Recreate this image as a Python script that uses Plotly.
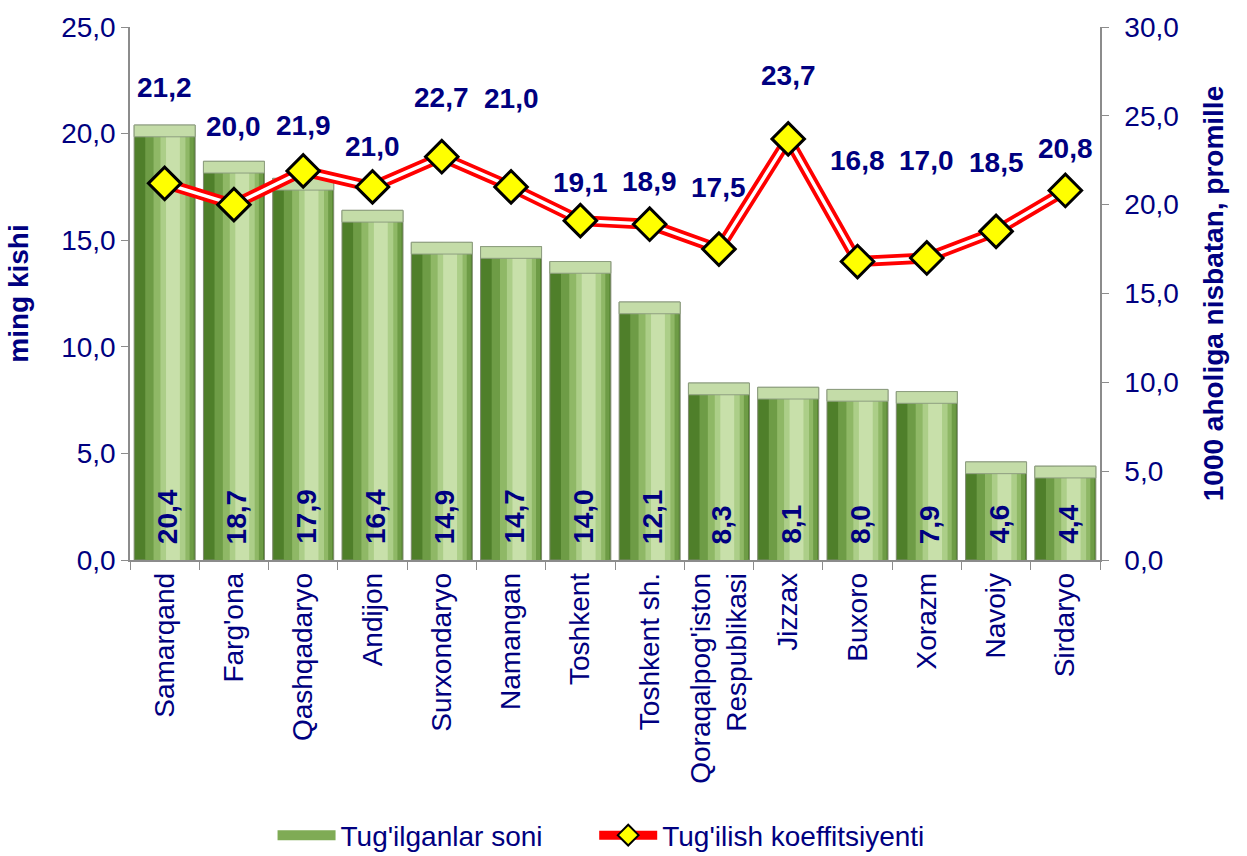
import plotly.graph_objects as go

categories = ["Samarqand", "Farg'ona", "Qashqadaryo", "Andijon", "Surxondaryo", "Namangan",
              "Toshkent", "Toshkent sh.", "Qoraqalpog'iston<br>Respublikasi", "Jizzax", "Buxoro",
              "Xorazm", "Navoiy", "Sirdaryo"]
births = [20.4, 18.7, 17.9, 16.4, 14.9, 14.7, 14.0, 12.1, 8.3, 8.1, 8.0, 7.9, 4.6, 4.4]
rate = [21.2, 20.0, 21.9, 21.0, 22.7, 21.0, 19.1, 18.9, 17.5, 23.7, 16.8, 17.0, 18.5, 20.8]

# label offsets above markers (pixels) - layout only
label_shift = [96, 78, 45, 40, 59, 88, 38, 43, 62, 63, 101, 97, 69, 42]

NAVY = "#000080"
FONT = "Arial, Liberation Sans, sans-serif"
FS = 28

def fmt(v):
    return f"{v:.1f}".replace(".", ",")

fig = go.Figure()

# bar layers (simulated gradient)
layers = [
    (0.88, -0.44, "#4f7f2a", dict(color="#7f8a70", width=1)),
    (0.70, -0.28, "#6e9c46", dict(width=0)),
    (0.52, -0.16, "#8fb866", dict(width=0)),
    (0.36, -0.06, "#acce88", dict(width=0)),
    (0.20, 0.02, "#c8e0aa", dict(width=0)),
]
for i, (w, off, col, ln) in enumerate(layers):
    fig.add_trace(go.Bar(
        x=categories, y=births, width=w, offset=off,
        marker=dict(color=col, line=ln),
        showlegend=False, hoverinfo="skip", yaxis="y"))

# top bevel cap
cap = [0.55] * len(births)
fig.add_trace(go.Bar(
    x=categories, y=cap, base=[b - c for b, c in zip(births, cap)], width=0.88, offset=-0.44,
    marker=dict(color="#c4dca8", line=dict(color="#8e9e80", width=1)),
    showlegend=False, hoverinfo="skip", yaxis="y"))

# value labels inside bars (rotated)
for c, v in zip(categories, births):
    fig.add_annotation(x=c, y=0, yref="y", text=f"<b>{fmt(v)}</b>", showarrow=False,
                       textangle=-90, yanchor="bottom", yshift=14, xshift=3,
                       font=dict(color=NAVY, size=FS, family=FONT))

# double red line
fig.add_trace(go.Scatter(x=categories, y=rate, mode="lines", line=dict(color="#ff0000", width=11),
                         showlegend=False, hoverinfo="skip", yaxis="y2"))
fig.add_trace(go.Scatter(x=categories, y=rate, mode="lines", line=dict(color="white", width=3.5),
                         showlegend=False, hoverinfo="skip", yaxis="y2"))
fig.add_trace(go.Scatter(x=categories, y=rate, mode="markers",
                         marker=dict(symbol="diamond", size=25, color="#ffff00",
                                     line=dict(color="black", width=3)),
                         showlegend=False, yaxis="y2"))

# legend entries
fig.add_trace(go.Scatter(x=[categories[0]], y=[None], mode="lines",
                         line=dict(color="#7fab55", width=14),
                         name="Tug'ilganlar soni" + "\u00a0" * 6, yaxis="y"))
fig.add_trace(go.Scatter(x=[categories[0]], y=[None], mode="lines+markers",
                         line=dict(color="#ff0000", width=9),
                         marker=dict(symbol="diamond", size=18, color="#ffff00",
                                     line=dict(color="black", width=2)),
                         name="Tug'ilish koeffitsiyenti", yaxis="y2"))

for c, v, s in zip(categories, rate, label_shift):
    fig.add_annotation(x=c, y=v, yref="y2", text=f"<b>{fmt(v)}</b>", showarrow=False,
                       yshift=s, font=dict(color=NAVY, size=FS, family=FONT))

fig.update_layout(
    width=1247, height=856,
    margin=dict(l=130, r=147, t=27, b=296),
    barmode="overlay",
    separators=",.",
    plot_bgcolor="white", paper_bgcolor="white",
    font=dict(family=FONT, color=NAVY, size=FS),
    xaxis=dict(range=[-0.5, 13.5], showline=True, linecolor="#8c8c8c", linewidth=1.5,
               ticks="outside", tickson="boundaries", ticklen=8, tickcolor="#8c8c8c",
               tickangle=-90,
               tickfont=dict(size=FS, color=NAVY), showgrid=False, automargin=False),
    yaxis=dict(range=[0, 25], dtick=5, tickformat=".1f", showline=True, linecolor="#8c8c8c",
               linewidth=1.5, ticks="outside", ticklen=7, tickcolor="#8c8c8c", showgrid=False,
               zeroline=False, tickfont=dict(size=FS, color=NAVY), automargin=False,
               title=dict(text="<b>ming kishi</b>", font=dict(size=FS, color=NAVY), standoff=24)),
    yaxis2=dict(range=[0, 30], dtick=5, tickformat=".1f", overlaying="y", side="right",
                showline=True, linecolor="#8c8c8c", linewidth=1.5, ticks="outside", ticklen=7,
                tickcolor="#8c8c8c", showgrid=False, zeroline=False, automargin=False,
                ticklabelposition="outside", ticklabelstandoff=10,
                tickfont=dict(size=FS, color=NAVY),
                title=dict(text="<b>1000 aholiga nisbatan, promille</b>",
                           font=dict(size=FS, color=NAVY), standoff=26)),
    legend=dict(orientation="h", xref="container", yref="container",
                x=0.482, xanchor="center", y=0.024, yanchor="middle",
                font=dict(size=FS, color=NAVY), itemwidth=58, traceorder="normal"),
)

fig.write_html("out.html", config={"displayModeBar": False},
               post_script="document.body.style.margin='0px';")
